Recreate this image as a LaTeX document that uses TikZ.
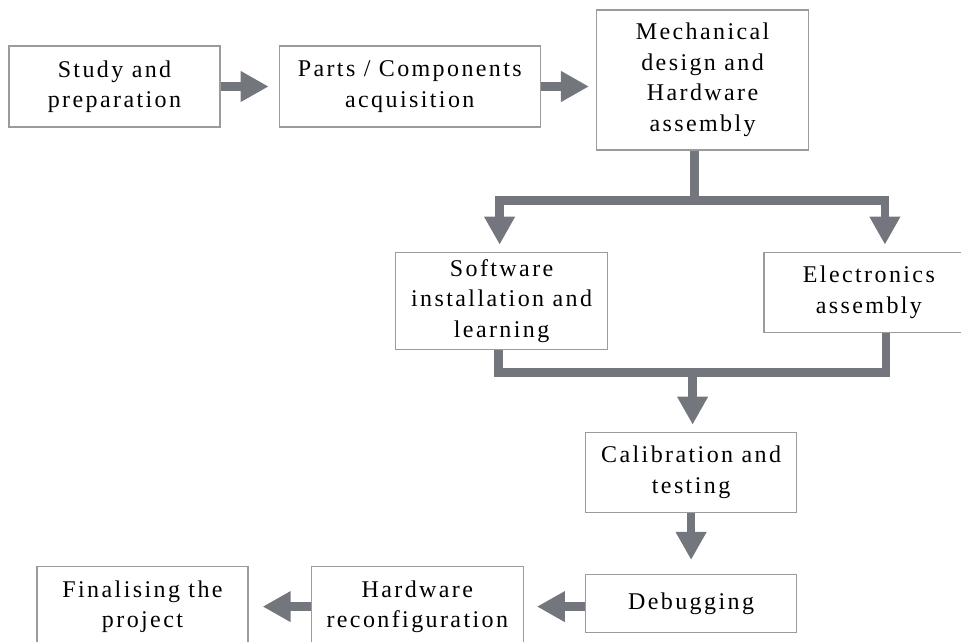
\documentclass[tikz,border=0pt]{standalone}
\usepackage{fontspec}
\setmainfont{Liberation Serif}[LetterSpace=10]
\usetikzlibrary{arrows.meta, positioning, calc}
\definecolor{boxgray}{RGB}{155,155,155}
\definecolor{arrowgray}{RGB}{115,118,125}

\tikzset{
  stage/.style={draw=boxgray, line width=1.3pt, fill=white, inner sep=0pt, align=center, font=\fontsize{24}{30.5}\selectfont},
  flow/.style={draw=arrowgray, line width=8.5pt},
  flowarrow/.style={flow, -{Triangle[width=29pt,length=28pt]}}
}

\begin{document}
\begin{tikzpicture}[x=1pt,y=-1pt]
        \useasboundingbox (0,0) rectangle (961,642);
        \clip (0,0) rectangle (961,642);
        \node[stage, minimum width=211pt, minimum height=81pt] (S) at (114.5,86.5) {Study and\\preparation};
        \node[stage, minimum width=261pt, minimum height=81pt, right=58pt of S] (P) {Parts / Components\\acquisition};
        \node[stage, minimum width=212pt, minimum height=140pt, right=55pt of P, yshift=6.5pt] (M) {Mechanical\\design and\\Hardware\\assembly};
        \node[stage, minimum width=212pt, minimum height=97pt, below=101pt of M, xshift=-201pt] (SW) {Software\\installation and\\learning};
        \node[stage, minimum width=210pt, minimum height=80pt, right=155pt of SW, yshift=8.5pt] (EL) {Electronics\\assembly};
        \node[stage, minimum width=211pt, minimum height=80pt, below=281pt of M, xshift=-11.5pt] (CT) {Calibration and\\testing};
        \node[stage, minimum width=211pt, minimum height=58pt, below=61pt of CT] (DB) {Debugging};
        \node[stage, minimum width=212pt, minimum height=80pt, left=61pt of DB, yshift=-3pt] (HR) {Hardware\\reconfiguration};
        \node[stage, minimum width=211pt, minimum height=80pt, left=62pt of HR] (FP) {Finalising the\\project};

        \coordinate (F) at ($(M.south)+(-8,50)$);
        \coordinate (J) at ($(CT.north)+(1.5,-59)$);
        \coordinate (SA) at ($(SW.north)+(-2,0)$);
        \coordinate (EA) at ($(EL.north)+(16,0)$);
        \coordinate (SB) at ($(SW.south)+(-3,0)$);
        \coordinate (EB) at ($(EL.south)+(17,0)$);

        \draw[flowarrow, shorten >=10pt] (S) -- (P);
        \draw[flowarrow, shorten >=7pt] (P.east) -- (P.east -| M.west);
        \draw[flow] (M.south -| F) -- (F);
        \draw[flowarrow, shorten >=7pt] (F) -| (SA);
        \draw[flowarrow, shorten >=7pt] (F) -| (EA);
        \draw[flow] (SB) |- (EB |- J) -- (EB);
        \draw[flowarrow, shorten >=7pt] (J) -- (CT.north -| J);
        \draw[flowarrow, shorten >=14pt] (CT) -- (DB);
        \draw[flowarrow, shorten >=13pt] (DB.west |- HR) -- (HR.east);
        \draw[flowarrow, shorten >=14pt] (HR) -- (FP);
\end{tikzpicture}
\end{document}
